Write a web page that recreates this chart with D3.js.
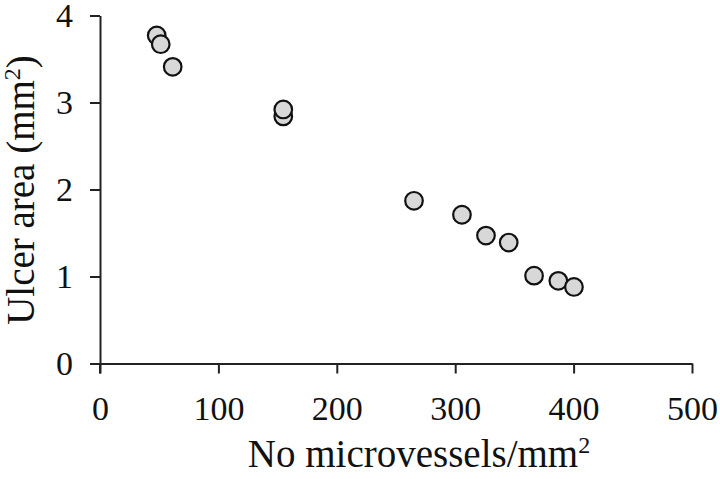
<!DOCTYPE html>
<html><head><meta charset="utf-8">
<script src="https://cdn.jsdelivr.net/npm/d3@7"></script>
<style>html,body{margin:0;padding:0;background:#fff;}svg{display:block;}</style>
</head><body>
<svg id="chart" width="720" height="479"></svg>
<script>
const microvessels = [47.9, 51.3, 61.4, 154.8, 154.8, 265.2, 305.7, 326.0, 345.2, 366.6, 387.1, 400.3];
const ulcerArea    = [3.77, 3.67, 3.41, 2.84, 2.92, 1.87, 1.71, 1.47, 1.39, 1.01, 0.95, 0.88];
const xTicks = [0, 100, 200, 300, 400, 500];
const yTicks = [0, 1, 2, 3, 4];

const svg = d3.select("#chart");
const font = "'Liberation Serif', 'Times New Roman', serif";
const x = d3.scaleLinear().domain([0, 500]).range([100, 692]);
const y = d3.scaleLinear().domain([0, 4]).range([363.5, 15.5]);

const xAxis = svg.append("g").attr("transform", `translate(0,${y(0)})`)
  .call(d3.axisBottom(x).tickValues(xTicks).tickFormat(d3.format("d")).tickSize(10).tickSizeOuter(0).tickPadding(22));
const yAxis = svg.append("g").attr("transform", `translate(${x(0)},0)`)
  .call(d3.axisLeft(y).tickValues(yTicks).tickFormat(d3.format("d")).tickSize(10).tickSizeOuter(0).tickPadding(17));
[xAxis, yAxis].forEach(g => {
  g.select(".domain").attr("stroke", "#222").attr("stroke-width", 2);
  g.selectAll(".tick line").attr("stroke", "#222").attr("stroke-width", 2);
  g.selectAll(".tick text").attr("fill", "#111").style("font-family", font).style("font-size", "34px");
});
// y-axis extends slightly below x-axis
svg.append("line").attr("x1", x(0)).attr("x2", x(0)).attr("y1", y(0)).attr("y2", y(0) + 10)
  .attr("stroke", "#222").attr("stroke-width", 2);

const pts = microvessels.map((v, i) => ({x: v, y: ulcerArea[i]}));
svg.append("g").selectAll("circle").data(pts).join("circle")
  .attr("cx", d => x(d.x)).attr("cy", d => y(d.y)).attr("r", 8.8)
  .attr("fill", "#d8d8d8").attr("stroke", "#111").attr("stroke-width", 2.2);

const xt = svg.append("text").attr("x", 419).attr("y", 467).attr("text-anchor", "middle")
  .style("font-family", font).style("font-size", "39px").attr("fill", "#111");
xt.append("tspan").text("No microvessels/mm");
xt.append("tspan").text("2").attr("dy", -14).style("font-size", "24px");

const yt = svg.append("text").attr("transform", "translate(34,190) rotate(-90)").attr("text-anchor", "middle")
  .style("font-family", font).style("font-size", "39px").attr("fill", "#111");
yt.append("tspan").text("Ulcer area (mm");
yt.append("tspan").text("2").attr("dy", -14).style("font-size", "24px");
yt.append("tspan").text(")").attr("dy", 14);
</script>
</body></html>
